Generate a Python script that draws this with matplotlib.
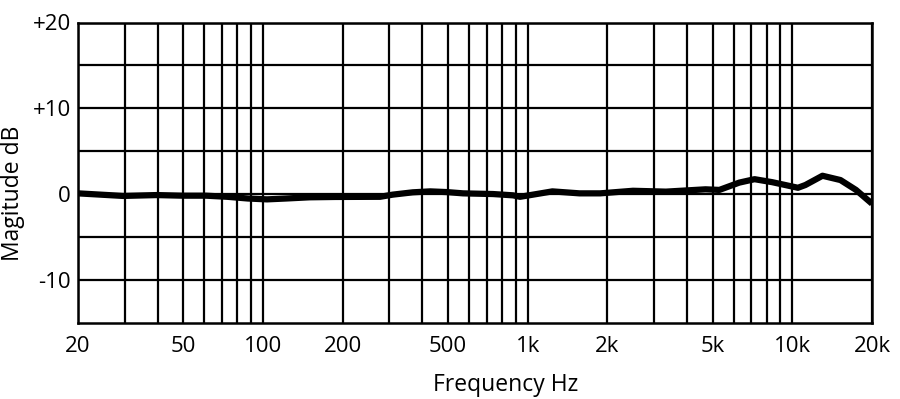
import matplotlib
matplotlib.use("Agg")
import matplotlib.pyplot as plt
import numpy as np

# Frequency response (Hz, dB)
freq_hz = [20, 29.6, 39.6, 49.5, 61, 73.3, 87.7, 103.5, 122, 150, 187, 277, 309,
           368, 428, 494, 570, 740, 880, 936, 1120, 1240, 1570, 1880, 2500,
           3330, 4700, 5300, 6300, 7200, 8400, 10500, 11200, 13000, 15200,
           17400, 20000]
mag_db = [0.1, -0.2, -0.1, -0.17, -0.17, -0.3, -0.5, -0.6, -0.5, -0.36, -0.32,
          -0.3, -0.05, 0.22, 0.33, 0.25, 0.1, 0.02, -0.13, -0.3, 0.1, 0.33,
          0.1, 0.1, 0.4, 0.3, 0.57, 0.5, 1.35, 1.75, 1.4, 0.75, 1.07, 2.15,
          1.65, 0.5, -1.1]

x_tick_vals = [20, 50, 100, 200, 500, 1000, 2000, 5000, 10000, 20000]
x_tick_labels = ["20", "50", "100", "200", "500", "1k", "2k", "5k", "10k", "20k"]
x_minor_grid = [30, 40, 60, 70, 80, 90, 300, 400, 600, 700, 800, 900,
                3000, 4000, 6000, 7000, 8000, 9000]
y_tick_vals = [-10, 0, 10, 20]
y_tick_labels = ["-10", "0", "+10", "+20"]
y_minor_grid = [-5, 5, 15]

plt.rcParams['font.family'] = ['Open Sans', 'DejaVu Sans']

fig = plt.figure(figsize=(9.0, 3.99), dpi=100)
ax = fig.add_axes([78/900, 1 - 323/399, (872-78)/900, (323-22.5)/399])

ax.set_xscale('log')
ax.set_xlim(20, 20000)
ax.set_ylim(-15, 20)

ax.set_xticks(x_tick_vals)
ax.set_xticklabels(x_tick_labels)
ax.set_xticks(x_minor_grid, minor=True)
ax.set_xticklabels([], minor=True)
ax.set_yticks(y_tick_vals)
ax.set_yticklabels(y_tick_labels)
ax.set_yticks(y_minor_grid, minor=True)

ax.grid(which='both', color='black', linewidth=1.6)
ax.set_axisbelow(True)
ax.tick_params(which='both', length=0)
ax.tick_params(axis='x', pad=9, labelsize=16)
ax.tick_params(axis='y', pad=5, labelsize=16)
for s in ax.spines.values():
    s.set_linewidth(1.8)
    s.set_color('black')

ax.plot(freq_hz, mag_db, color='black', linewidth=4.5, solid_capstyle='butt',
        solid_joinstyle='round', zorder=3)

ax.set_xlabel("Frequency Hz", fontsize=16.5)
ax.set_ylabel("Magitude dB", fontsize=16.5)
ax.xaxis.set_label_coords(0.539, -0.165)
ax.yaxis.set_label_coords(-0.067, 0.433)

fig.savefig("out.png", dpi=100, facecolor='white')
